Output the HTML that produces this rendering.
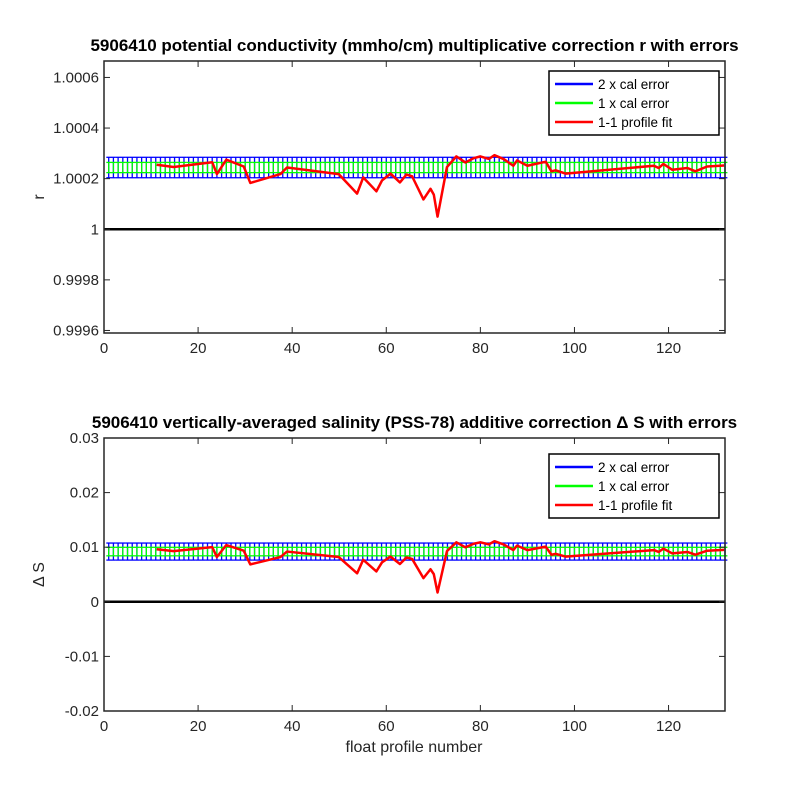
<!DOCTYPE html>
<html><head><meta charset="utf-8"><style>body{margin:0;background:#fff}svg{font-family:"Liberation Sans",sans-serif}</style></head>
<body>
<svg id="c" width="800" height="800" xmlns="http://www.w3.org/2000/svg"></svg>
<script>
const profiles=[11.2,14.8,23,24,26,29.7,31.1,37.5,38.9,49.9,53.8,55.1,57.9,59.1,60.9,62.9,64.3,65.5,67.9,69.4,70.1,70.9,72.9,74.9,76.8,78.6,80,81.8,83,85,87,87.8,90,93.9,95.1,96,98.1,116.9,117.9,118.9,120.8,124,125.7,128.2,131.8];
const rFit=[1.000255,1.000246,1.000265,1.000218,1.000275,1.000248,1.000183,1.000218,1.000244,1.000218,1.000141,1.000205,1.00015,1.000193,1.00022,1.000185,1.000216,1.000209,1.000118,1.00016,1.000137,1.00005,1.000246,1.000288,1.000264,1.000281,1.000288,1.000278,1.000293,1.000277,1.000251,1.000272,1.000251,1.000267,1.000229,1.000233,1.00022,1.000251,1.000242,1.000258,1.000235,1.000242,1.000229,1.000248,1.000252];
const dsFit=[0.00963,0.00928,0.01002,0.0082,0.0104,0.00936,0.00685,0.0082,0.0092,0.0082,0.00522,0.0077,0.00557,0.00723,0.00828,0.00692,0.00812,0.00785,0.00433,0.00596,0.00507,0.0017,0.00928,0.0109,0.00998,0.01063,0.0109,0.01052,0.0111,0.01048,0.00947,0.01029,0.00947,0.0101,0.00862,0.00878,0.00828,0.00947,0.00913,0.00974,0.00886,0.00913,0.00862,0.00936,0.00951];
const rCal=1.000244, rErr=0.0000202;
const dsCal=0.0092, dsErr=0.00078;
const nProfiles=132;
const xTicks=[0,20,40,60,80,100,120];
const rTicks=[0.9996,0.9998,1,1.0002,1.0004,1.0006];
const rTickLabels=["0.9996","0.9998","1","1.0002","1.0004","1.0006"];
const dsTicks=[-0.02,-0.01,0,0.01,0.02,0.03];
const dsTickLabels=["-0.02","-0.01","0","0.01","0.02","0.03"];
const legendLabels=["2 x cal error","1 x cal error","1-1 profile fit"];

const svg=document.getElementById('c');const NS='http://www.w3.org/2000/svg';
function el(t,a,p){const e=document.createElementNS(NS,t);for(const k in a)e.setAttribute(k,a[k]);(p||svg).appendChild(e);return e;}
function panel(o){
  const g=el('g',{});
  
  
  const L=104,R=725,T=o.top,B=o.bottom;
  const xs=v=>L+(v/132)*(R-L);
  const ys=v=>B-(v-o.ymin)/(o.ymax-o.ymin)*(B-T);
  const drawBars=(k,col,nm)=>{const gg=el('g',{stroke:col,'stroke-width':1.3},g);
    
    for(let i=1;i<=nProfiles;i++){const x=xs(i),y1=ys(o.cal+k*o.err),y2=ys(o.cal-k*o.err);
      el('line',{x1:x,x2:x,y1:y1,y2:y2},gg);
      el('line',{x1:x-2.4,x2:x+2.4,y1:y1,y2:y1},gg);
      el('line',{x1:x-2.4,x2:x+2.4,y1:y2,y2:y2},gg);}};
  drawBars(2,'#0000ff','two-x-error-bars');drawBars(1,'#00ff00','one-x-error-bars');
  const z=el('line',{x1:L,x2:R,y1:ys(o.zero),y2:ys(o.zero),stroke:'#000','stroke-width':2.5},g);
  
  const pl=el('polyline',{points:profiles.map((p,i)=>xs(p)+','+ys(o.fit[i])).join(' '),fill:'none',stroke:'#ff0000','stroke-width':2.5,'stroke-linejoin':'round'},g);
  
  el('rect',{x:L,y:T,width:R-L,height:B-T,fill:'none',stroke:'#262626','stroke-width':1.5},g);
  xTicks.forEach(t=>{const x=xs(t);el('line',{x1:x,x2:x,y1:B,y2:B-6,stroke:'#262626'},g);el('line',{x1:x,x2:x,y1:T,y2:T+6,stroke:'#262626'},g);
    const tx=el('text',{x:x,y:B+20,'text-anchor':'middle','font-size':15,fill:'#262626'},g);tx.textContent=t;
    });
  o.ticks.forEach((t,i)=>{const y=ys(t);el('line',{x1:L,x2:L+6,y1:y,y2:y,stroke:'#262626'},g);el('line',{x1:R,x2:R-6,y1:y,y2:y,stroke:'#262626'},g);
    const tx=el('text',{x:L-5,y:y+5,'text-anchor':'end','font-size':15,fill:'#262626'},g);tx.textContent=o.labels[i];
    });
  const ti=el('text',{x:(L+R)/2,y:T-10,'text-anchor':'middle','font-size':17,'font-weight':'bold',fill:'#000'},g);ti.textContent=o.title;
  
  const yl=el('text',{x:0,y:0,'text-anchor':'middle','font-size':16,fill:'#262626',transform:`translate(44,${(T+B)/2}) rotate(-90)`},g);yl.textContent=o.ylabel;
  
  const lg=el('g',{},g);
  const ly=o.legTop;
  el('rect',{x:549,y:ly,width:170,height:64,fill:'#fff',stroke:'#000','stroke-width':1.5},lg);
  ['#0000ff','#00ff00','#ff0000'].forEach((c,i)=>{const yy=ly+13+i*19;
    el('line',{x1:555,x2:593,y1:yy,y2:yy,stroke:c,'stroke-width':2.5},lg);
    const t=el('text',{x:598,y:yy+5,'font-size':13.5,fill:'#000'},lg);t.textContent=legendLabels[i];
    });
}
panel({name:'r-correction-panel',top:61,bottom:333,ymin:0.99959,ymax:1.000665,cal:rCal,err:rErr,zero:1,fit:rFit,ticks:rTicks,labels:rTickLabels,
  title:'5906410 potential conductivity (mmho/cm) multiplicative correction r with errors',ylabel:'r',legTop:71});
panel({name:'salinity-correction-panel',top:438,bottom:711,ymin:-0.02,ymax:0.03,cal:dsCal,err:dsErr,zero:0,fit:dsFit,ticks:dsTicks,labels:dsTickLabels,
  title:'5906410 vertically-averaged salinity (PSS-78) additive correction \u0394 S with errors',ylabel:'\u0394 S',legTop:454});
const xl=el('text',{x:414,y:752,'text-anchor':'middle','font-size':16,fill:'#262626'});xl.textContent='float profile number';

</script>
</body></html>
